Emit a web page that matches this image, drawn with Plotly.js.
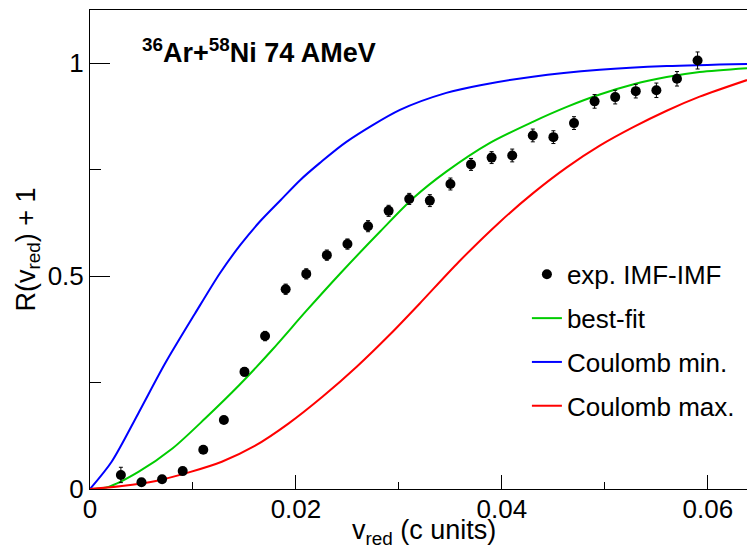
<!DOCTYPE html>
<html>
<head>
<meta charset="utf-8">
<script src="https://cdn.plot.ly/plotly-3.0.1.min.js"></script>
<style>html,body{margin:0;padding:0;background:#fff;}#chart{width:747px;height:546px;}</style>
</head>
<body>
<div id="chart"></div>
<script>
// experimental points
var expX = [0.003,0.005,0.007,0.009,0.011,0.013,0.015,0.017,0.019,0.021,0.023,0.025,0.027,0.029,0.031,0.033,0.035,0.037,0.039,0.041,0.043,0.045,0.047,0.049,0.051,0.053,0.055,0.057,0.059];
var expY = [0.033,0.016,0.023,0.042,0.092,0.162,0.275,0.359,0.469,0.505,0.549,0.575,0.617,0.653,0.681,0.677,0.716,0.762,0.778,0.783,0.830,0.826,0.859,0.910,0.920,0.934,0.936,0.963,1.006];
var expErr = [0.018,0.008,0.008,0.008,0.008,0.008,0.010,0.011,0.012,0.012,0.012,0.012,0.013,0.013,0.013,0.014,0.014,0.014,0.014,0.015,0.015,0.015,0.015,0.016,0.016,0.016,0.017,0.017,0.020];

// best-fit curve
var fitX = [0,0.0018,0.0047,0.008,0.0112,0.0145,0.0177,0.021,0.0243,0.0282,0.0314,0.0346,0.0388,0.043,0.0463,0.0495,0.0528,0.056,0.0592,0.0638];
var fitY = [0,0.005,0.040,0.095,0.166,0.244,0.327,0.418,0.506,0.605,0.683,0.745,0.812,0.862,0.897,0.926,0.950,0.967,0.979,0.988];

// Coulomb min
var minX = [0,0.0021,0.0047,0.0073,0.0102,0.0126,0.0146,0.0165,0.0185,0.0204,0.0223,0.0249,0.0301,0.0346,0.0379,0.043,0.0495,0.056,0.0638];
var minY = [0,0.064,0.178,0.295,0.412,0.506,0.573,0.628,0.678,0.725,0.765,0.815,0.890,0.930,0.948,0.968,0.984,0.993,0.998];

// Coulomb max
var maxX = [0,0.0031,0.0064,0.0096,0.0128,0.016,0.0193,0.0226,0.0259,0.0291,0.032,0.0358,0.0398,0.043,0.0463,0.0495,0.0528,0.056,0.0592,0.0638];
var maxY = [0,0.007,0.019,0.039,0.064,0.101,0.154,0.217,0.287,0.362,0.435,0.533,0.627,0.694,0.755,0.806,0.850,0.888,0.921,0.960];

var seriesNames = ['exp. IMF-IMF','best-fit','Coulomb min.','Coulomb max.'];
var xTickVals = [0,0.02,0.04,0.06];
var xTickText = ['0','0.02','0.04','0.06'];
var yTickVals = [0,0.5,1];
var yTickText = ['0','0.5','1'];

var FONT = 'Liberation Sans, Arial, Helvetica, sans-serif';

var traces = [
  {x: fitX, y: fitY, mode:'lines', name: seriesNames[1], line:{color:'#00cc00', width:2, shape:'spline', smoothing:0.8}, legendgroup:'b', legendrank:2, hoverinfo:'skip'},
  {x: minX, y: minY, mode:'lines', name: seriesNames[2], line:{color:'#0000ff', width:2, shape:'spline', smoothing:0.8}, legendgroup:'c', legendrank:3, hoverinfo:'skip'},
  {x: maxX, y: maxY, mode:'lines', name: seriesNames[3], line:{color:'#ff0000', width:2, shape:'spline', smoothing:0.8}, legendgroup:'d', legendrank:4, hoverinfo:'skip'},
  {x: expX, y: expY, mode:'markers', name: seriesNames[0], marker:{color:'#000', size:10},
   error_y:{type:'data', array: expErr, visible:true, color:'#000', thickness:1, width:2}, legendgroup:'a', legendrank:1}
];

var layout = {
  width: 747, height: 546,
  margin: {l:90, r:0, t:10, b:57},
  paper_bgcolor:'#fff', plot_bgcolor:'#fff',
  font: {family: FONT, color:'#000', size:26},
  showlegend: true,
  legend: {x:0.665, y:0.497, xanchor:'left', yanchor:'top', bgcolor:'rgba(0,0,0,0)', borderwidth:0,
           font:{family:FONT, size:26, color:'#000'}, traceorder:'grouped', tracegroupgap:7},
  xaxis: {range:[0,0.0638], showgrid:false, zeroline:false, showline:true, linecolor:'#000', linewidth:1, mirror:true,
          tickmode:'array', tickvals:xTickVals, ticktext:xTickText, ticks:'inside', ticklen:14, tickcolor:'#000',
          ticklabelstandoff:-3,
          minor:{dtick:0.01, tick0:0, ticks:'inside', ticklen:7, tickcolor:'#000', showgrid:false},
          tickfont:{family:FONT, size:26, color:'#000'}},
  yaxis: {range:[0,1.1245], showgrid:false, zeroline:false, showline:true, linecolor:'#000', linewidth:1, mirror:false,
          tickmode:'array', tickvals:yTickVals, ticktext:yTickText, ticks:'inside', ticklen:20, tickcolor:'#000',
          minor:{dtick:0.25, tick0:0, ticks:'inside', ticklen:11, tickcolor:'#000', showgrid:false},
          tickfont:{family:FONT, size:26, color:'#000'},
          title:{text:'R(v<sub>red</sub>) + 1', font:{family:FONT, size:27, color:'#000'}, standoff:4}},
  annotations: [
    {xref:'paper', yref:'paper', x:0.0761, y:0.914, xanchor:'left', yanchor:'middle', showarrow:false,
     text:'<b><sup>36</sup>Ar+<sup>58</sup>Ni 74 AMeV</b>', font:{family:FONT, size:27, color:'#000'}},
    {xref:'paper', yref:'paper', x:0.508, y:-0.09, xanchor:'center', yanchor:'middle', showarrow:false,
     text:'v<sub>red</sub> (c units)', font:{family:FONT, size:27, color:'#000'}}
  ]
};

Plotly.newPlot('chart', traces, layout, {displayModeBar:false, staticPlot:true});
</script>
</body>
</html>
